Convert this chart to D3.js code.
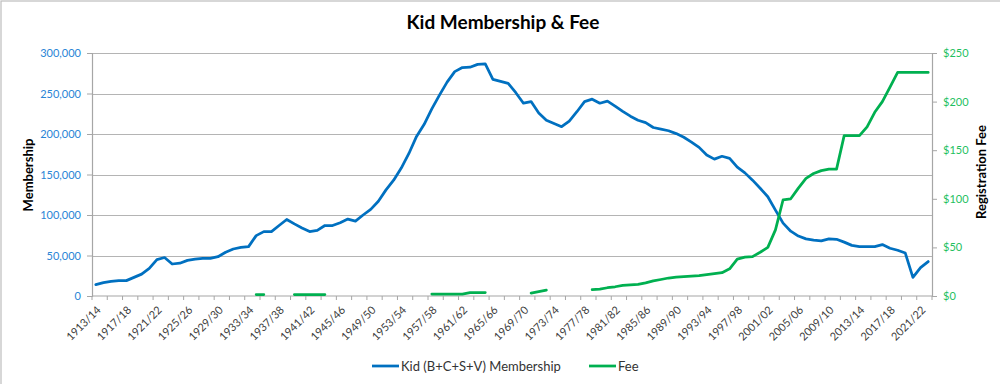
<!DOCTYPE html>
<html>
<head>
<meta charset="utf-8">
<script src="https://cdn.jsdelivr.net/npm/d3@7/dist/d3.min.js"></script>
<style>
  html, body { margin: 0; padding: 0; background: #fff; }
  svg { display: block; font-family: Lato, "Open Sans", sans-serif; }
</style>
</head>
<body>
<svg id="chart" width="1000" height="384"></svg>
<script>
const categories = [
  "1913/14","1914/15","1915/16","1916/17","1917/18","1918/19","1919/20","1920/21","1921/22","1922/23",
  "1923/24","1924/25","1925/26","1926/27","1927/28","1928/29","1929/30","1930/31","1931/32","1932/33",
  "1933/34","1934/35","1935/36","1936/37","1937/38","1938/39","1939/40","1940/41","1941/42","1942/43",
  "1943/44","1944/45","1945/46","1946/47","1947/48","1948/49","1949/50","1950/51","1951/52","1952/53",
  "1953/54","1954/55","1955/56","1956/57","1957/58","1958/59","1959/60","1960/61","1961/62","1962/63",
  "1963/64","1964/65","1965/66","1966/67","1967/68","1968/69","1969/70","1970/71","1971/72","1972/73",
  "1973/74","1974/75","1975/76","1976/77","1977/78","1978/79","1979/80","1980/81","1981/82","1982/83",
  "1983/84","1984/85","1985/86","1986/87","1987/88","1988/89","1989/90","1990/91","1991/92","1992/93",
  "1993/94","1994/95","1995/96","1996/97","1997/98","1998/99","1999/00","2000/01","2001/02","2002/03",
  "2003/04","2004/05","2005/06","2006/07","2007/08","2008/09","2009/10","2010/11","2011/12","2012/13",
  "2013/14","2014/15","2015/16","2016/17","2017/18","2018/19","2019/20","2020/21","2021/22","2022/23"
];

const membership = [
  14000,16500,18000,19000,19000,23000,27000,34000,45000,47500,
  39500,40500,44000,45500,46500,46500,48500,54000,58000,60000,
  61000,74500,79500,79500,87000,94500,89000,84000,79500,81000,
  87000,87000,90500,95000,92500,100000,107000,117000,131000,143000,
  158000,176000,197000,212000,231000,248000,264000,277000,282000,282500,
  286000,286500,267500,265000,262500,251000,238000,240000,226000,217000,
  213000,209000,216000,227500,240000,243000,238000,240500,234500,228000,
  222000,217000,214000,208000,206000,204000,200500,196000,190000,183500,
  174000,169000,172500,170000,159000,152000,143000,133000,122500,106000,
  90000,80000,74000,70500,69000,68000,70500,70000,66500,62500,
  61000,61000,61000,63500,59000,56500,53000,23000,35000,42500
];

const fee = [
  null,null,null,null,null,null,null,null,null,null,
  null,null,null,null,null,null,null,null,null,null,
  null,1.5,1.5,null,null,null,1.5,1.5,1.5,1.5,
  1.5,null,null,null,null,null,null,null,null,null,
  null,null,null,null,2,2,2,2,2,3.5,
  3.5,3.5,null,null,null,null,null,3,4.5,6,
  null,null,null,null,null,6.5,7,8.5,9.5,11,
  11.5,12,13.5,15.5,17,18.5,19.5,20,20.5,21,
  22,23,24,28,38,40,40.5,45,50,68,
  99,100,111,121,126,129,130.5,130.5,165,165,
  165,174,189,200,215,230,230,230,230,230
];

const leftTicks = [0,50000,100000,150000,200000,250000,300000];
const rightTicks = [0,50,100,150,200,250];

const title = "Kid Membership & Fee";
const leftTitle = "Membership";
const rightTitle = "Registration Fee";
const seriesNames = ["Kid (B+C+S+V) Membership", "Fee"];

const colBlue = "#0070c0";
const colGreen = "#00b050";

const svg = d3.select("#chart");

// chart frame (only top/left edges fall inside the view)
svg.append("rect").attr("x", 1).attr("y", 1).attr("width", 1100).attr("height", 500)
  .attr("fill", "none").attr("stroke", "#bdbdbd").attr("stroke-width", 1.2);

const x = d3.scaleBand().domain(categories).range([92, 932]).padding(0);
const yL = d3.scaleLinear().domain([0, 300000]).range([296, 53]);
const yR = d3.scaleLinear().domain([0, 250]).range([296, 53]);
const cx = c => x(c) + x.bandwidth() / 2;

// gridlines
svg.append("g").selectAll("line").data(leftTicks.slice(1)).join("line")
  .attr("x1", 92).attr("x2", 932)
  .attr("y1", d => Math.round(yL(d)) + 0.5).attr("y2", d => Math.round(yL(d)) + 0.5)
  .attr("stroke", "#b4b4b4").attr("stroke-width", 1.2);

// left axis
const gL = svg.append("g").attr("transform", "translate(92,0)")
  .call(d3.axisLeft(yL).tickValues(leftTicks).tickSize(5).tickPadding(6).tickFormat(d3.format(",")));
gL.select(".domain").attr("stroke", "#a6a6a6").attr("stroke-width", 1.2);
gL.selectAll(".tick line").attr("stroke", "#a6a6a6");
gL.selectAll("text").attr("fill", "#2a85d6").attr("font-size", 11).attr("font-family", "Lato");

// right axis
const gR = svg.append("g").attr("transform", "translate(932,0)")
  .call(d3.axisRight(yR).tickValues(rightTicks).tickSize(5).tickPadding(6).tickFormat(d => "$" + d));
gR.select(".domain").attr("stroke", "#a6a6a6").attr("stroke-width", 1.2);
gR.selectAll(".tick line").attr("stroke", "#a6a6a6");
gR.selectAll("text").attr("fill", "#1fbf5f").attr("font-size", 11).attr("font-family", "Lato");

// bottom axis
const gB = svg.append("g").attr("transform", "translate(0,296)");
gB.append("line").attr("x1", 92).attr("x2", 932).attr("y1", 0).attr("y2", 0)
  .attr("stroke", "#a6a6a6").attr("stroke-width", 1.2);
const tickIdx = d3.range(0, categories.length + 1, 2);
gB.selectAll("line.t").data(tickIdx).join("line").attr("class", "t")
  .attr("x1", i => 92 + i * x.bandwidth()).attr("x2", i => 92 + i * x.bandwidth())
  .attr("y1", 0).attr("y2", 4).attr("stroke", "#a6a6a6");
gB.selectAll("text").data(categories.filter((c, i) => i % 4 === 0)).join("text")
  .attr("transform", c => `translate(${cx(c) + 3},${12}) rotate(-45)`)
  .attr("text-anchor", "end").attr("dy", "0.35em")
  .attr("font-size", 11).attr("fill", "#404040").text(c => c);

// lines
const lineL = d3.line().defined(d => d.v != null).x(d => cx(d.c)).y(d => yL(d.v));
const lineR = d3.line().defined(d => d.v != null).x(d => cx(d.c)).y(d => yR(d.v));

svg.append("path").datum(categories.map((c, i) => ({ c, v: membership[i] })))
  .attr("d", lineL).attr("fill", "none").attr("stroke", colBlue).attr("stroke-width", 2.75)
  .attr("stroke-linejoin", "round").attr("stroke-linecap", "round");

svg.append("path").datum(categories.map((c, i) => ({ c, v: fee[i] })))
  .attr("d", lineR).attr("fill", "none").attr("stroke", colGreen).attr("stroke-width", 2.75)
  .attr("stroke-linejoin", "round").attr("stroke-linecap", "round");

// titles
svg.append("text").attr("x", 503).attr("y", 29).attr("text-anchor", "middle")
  .attr("font-size", 19).attr("font-weight", "bold").attr("fill", "#000").text(title);

svg.append("text").attr("transform", "translate(33,175) rotate(-90)").attr("text-anchor", "middle")
  .attr("font-size", 13).attr("font-weight", "bold").attr("fill", "#000").text(leftTitle);

svg.append("text").attr("transform", "translate(986,172) rotate(-90)").attr("text-anchor", "middle")
  .attr("font-size", 13).attr("font-weight", "bold").attr("fill", "#000").text(rightTitle);

// legend
const legend = [
  { name: seriesNames[0], color: colBlue, x: 372 },
  { name: seriesNames[1], color: colGreen, x: 589 }
];
const lg = svg.append("g").selectAll("g").data(legend).join("g")
  .attr("transform", d => `translate(${d.x},366)`);
lg.append("line").attr("x1", 0).attr("x2", 27).attr("y1", 0).attr("y2", 0)
  .attr("stroke", d => d.color).attr("stroke-width", 2.75);
lg.append("text").attr("x", 29).attr("dy", "0.35em").attr("font-size", 13)
  .attr("fill", "#333").text(d => d.name);
</script>
</body>
</html>
